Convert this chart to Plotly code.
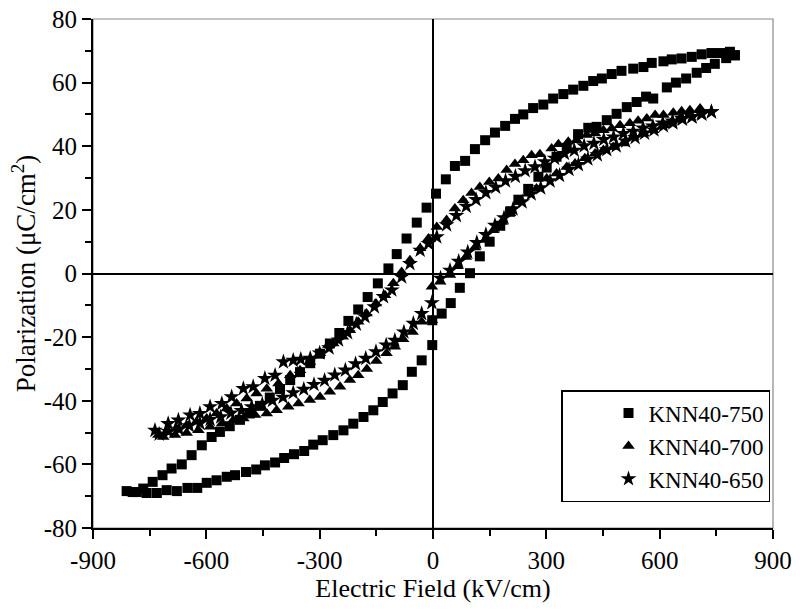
import plotly.graph_objects as go

# ---- data ----
names = ["KNN40-750", "KNN40-700", "KNN40-650"]

e750 = [799, 786, 760, 737, 711, 685, 658, 632, 610, 579, 557, 530, 499, 473, 447, 424, 398, 371, 345, 318,
        292, 265, 239, 217, 191, 164, 138, 111, 85, 58, 34, 8, -17, -43, -70, -96, -118, -146, -173, -198,
        -224, -248, -273, -299, -325, -352, -378, -405, -432, -458, -485, -511, -538, -564, -586, -612, -639,
        -665, -692, -716, -742, -767, -795, -811,
        -784, -758, -731, -705, -678, -650, -624, -599, -573, -546, -524, -495, -468, -445, -418, -394, -368,
        -341, -317, -292, -264, -237, -211, -184, -158, -133, -107, -80, -56, -30, -2, -2, 23, 47, 71, 98,
        124, 150, 178, 204, 226, 252, 279, 301, 327, 354, 384, 411, 433, 460, 486, 513, 539, 564, 583, 619,
        643, 670, 698, 723, 746, 776, 799]
p750 = [68.6, 69.7, 69.3, 69.3, 68.9, 68.1, 67.6, 67.3, 66.7, 66.2, 64.9, 64.4, 63.7, 62.7, 61.3, 60.5, 59.0,
        57.8, 56.4, 55.0, 53.1, 52.0, 50.0, 48.6, 46.4, 44.3, 41.9, 39.1, 35.4, 33.8, 29.6, 25.1, 20.7, 16.0,
        11.0, 6.1, 1.6, -3.1, -7.4, -11.3, -14.9, -18.7, -22.0, -25.2, -28.2, -31.0, -33.5, -36.3, -39.0,
        -41.6, -44.0, -46.0, -48.0, -49.8, -51.4, -54.0, -57.1, -60.0, -61.3, -63.4, -65.5, -67.6, -68.7, -68.4,
        -68.7, -69.0, -69.0, -68.1, -68.4, -67.4, -67.4, -65.8, -65.0, -63.9, -63.4, -62.4, -61.6, -60.3,
        -59.4, -58.0, -56.8, -55.8, -53.8, -52.4, -50.8, -49.3, -47.2, -45.1, -43.0, -40.4, -37.7, -35.1,
        -30.9, -27.3, -22.5, -14.7, -12.6, -9.3, -4.5, 0.1, 5.4, 10.0, 15.0, 19.4, 23.2, 26.6, 30.4, 33.3,
        36.7, 39.5, 43.8, 45.8, 46.1, 48.2, 50.2, 52.3, 53.9, 55.6, 55.0, 58.5, 60.0, 61.3, 63.1, 64.6, 65.9,
        67.7, 68.6]

e700 = [707, 680, 658, 636, 610, 588, 566, 543, 521, 495, 473, 451, 429, 407, 380, 358, 332, 314, 283, 261,
        239, 217, 195, 173, 149, 124, 102, 80, 58, 36, 10, -12, -34, -61, -83, -105, -127, -151, -176, -198,
        -220, -239, -264, -277, -299, -326, -352, -378, -409, -440, -467, -493, -520, -546, -573, -599, -626,
        -652, -679, -705, -727,
        -714, -683, -652, -621, -590, -559, -529, -502, -471, -440, -414, -383, -356, -326, -299, -273, -246,
        -220, -198, -175, -150, -123, -101, -79, -54, -30, -3, -3, 19, 45, 65, 87, 111, 138, 160, 182, 204,
        226, 252, 274, 301, 327, 354, 376, 402, 429, 451, 477, 504, 530, 557, 583, 610, 632, 654, 680, 707]
p700 = [51.9, 51.3, 51.0, 50.5, 49.8, 49.8, 48.7, 48.0, 47.2, 46.6, 45.6, 45.0, 44.0, 43.5, 41.9, 41.4, 40.6,
        39.3, 37.5, 37.2, 35.6, 34.4, 32.5, 29.9, 28.8, 27.2, 25.3, 23.0, 20.4, 16.8, 14.6, 11.0, 7.9, 4.2,
        0.5, -3.1, -6.8, -9.4, -12.6, -15.2, -17.8, -19.9, -22.0, -22.5, -25.1, -27.8, -30.4, -32.0, -34.6,
        -36.2, -37.7, -39.3, -40.9, -42.4, -44.0, -45.6, -46.6, -47.7, -48.7, -49.8, -50.8,
        -51.4, -50.8, -50.1, -49.3, -48.2, -47.2, -46.1, -45.6, -44.5, -44.0, -43.0, -41.9, -40.9, -39.8,
        -38.8, -37.2, -35.6, -33.5, -32.0, -30.0, -27.5, -25.1, -23.0, -20.7, -18.4, -15.2, -14.7, -4.2,
        -2.6, -0.5, 2.3, 5.2, 8.2, 10.5, 13.6, 16.2, 18.9, 22.5, 25.1, 26.7, 29.9, 31.4, 33.5, 34.6, 36.2,
        37.7, 38.8, 39.8, 40.9, 42.9, 44.0, 45.0, 46.6, 47.7, 48.7, 49.8, 51.3]

e650 = [737, 712, 686, 660, 634, 608, 582, 556, 530, 504, 478, 452, 426, 400, 374, 348, 322, 296, 270, 244,
        218, 192, 166, 140, 114, 88, 62, 36, 10, -12, -34, -61, -83, -109, -131, -155, -180, -203, -226,
        -250, -275, -300, -325, -350, -370, -396, -418, -445, -476, -502, -533, -559, -590, -617, -643, -674,
        -701, -736,
        -725, -700, -672, -645, -617, -590, -562, -535, -507, -480, -452, -425, -397, -370, -342, -315, -287,
        -260, -232, -205, -178, -151, -124, -101, -77, -52, -30, -3, 20, 45, 68, 92, 116, 140, 164, 188,
        212, 236, 260, 285, 310, 335, 360, 385, 410, 435, 460, 485, 510, 535, 560, 585, 610, 635, 660, 685,
        710, 737]
p650 = [50.8, 50.1, 49.3, 48.7, 47.9, 47.3, 46.3, 45.7, 44.7, 44.0, 42.9, 42.1, 40.9, 40.1, 38.7, 37.7, 36.2,
        35.1, 33.5, 32.3, 30.5, 29.1, 27.1, 25.4, 23.2, 21.1, 18.2, 15.3, 11.5, 9.4, 7.3, 3.1, -1.1, -5.2,
        -7.3, -10.5, -13.6, -15.9, -18.6, -20.9, -23.4, -25.0, -26.7, -27.0, -27.3, -27.8, -32.0, -33.0,
        -35.6, -36.2, -38.8, -40.9, -41.9, -44.0, -44.5, -46.1, -47.2, -49.3,
        -50.5, -49.7, -49.0, -47.9, -47.1, -45.9, -45.1, -43.9, -43.1, -41.9, -41.1, -39.9, -38.9, -37.5,
        -36.4, -34.9, -33.6, -31.9, -30.4, -28.4, -26.7, -24.6, -22.5, -21.0, -18.4, -15.7, -12.6, -9.2,
        -1.5, 1.0, 3.8, 6.7, 9.7, 12.2, 15.1, 17.5, 20.3, 22.5, 25.0, 26.9, 29.1, 30.8, 32.7, 34.2, 36.0,
        37.3, 38.9, 40.1, 41.6, 42.7, 44.1, 45.1, 46.4, 47.3, 48.5, 49.2, 50.2, 50.8]

x_ticks = [-900, -600, -300, 0, 300, 600, 900]
y_ticks = [-80, -60, -40, -20, 0, 20, 40, 60, 80]

FONT = "Liberation Serif, Times New Roman, serif"

fig = go.Figure()
fig.add_trace(go.Scatter(x=e750, y=p750, mode="markers", name=names[0],
                         marker=dict(symbol="square", size=10, color="black")))
fig.add_trace(go.Scatter(x=e700, y=p700, mode="markers", name=names[1],
                         marker=dict(symbol="triangle-up", size=11, color="black")))
fig.add_trace(go.Scatter(x=e650, y=p650, mode="markers", name=names[2],
                         marker=dict(symbol="star", size=12, color="black")))

axis_common = dict(showgrid=False, showline=True, linecolor="black", linewidth=2,
                   ticks="outside", ticklen=9, tickwidth=1.5, tickcolor="black",
                   zeroline=True, zerolinecolor="black", zerolinewidth=1.5,
                   automargin=False, ticklabeloverflow="allow",
                   tickfont=dict(family=FONT, size=25, color="black"))

fig.update_xaxes(range=[-900, 900], tickvals=x_ticks, ticktext=[str(v) for v in x_ticks],
                 minor=dict(dtick=150, tick0=-900, ticks="outside", ticklen=6, tickwidth=1.5, tickcolor="black"),
                 title=dict(text="Electric Field (kV/cm)", font=dict(family=FONT, size=26, color="black"),
                            standoff=6),
                 **axis_common)
fig.update_yaxes(range=[-80, 80], tickvals=y_ticks, ticktext=[str(v) for v in y_ticks],
                 minor=dict(dtick=10, tick0=-80, ticks="outside", ticklen=6, tickwidth=1.5, tickcolor="black"),
                 title=dict(text="Polarization (μC/cm<sup>2</sup>)", font=dict(family=FONT, size=27, color="black"),
                            standoff=0),
                 **axis_common)

fig.add_shape(type="rect", xref="paper", yref="paper", x0=0, x1=1, y0=0, y1=1,
              line=dict(color="#888888", width=1.2), layer="below")

fig.update_layout(
    width=800, height=611,
    margin=dict(l=93, r=27, t=19, b=83),
    paper_bgcolor="white", plot_bgcolor="white",
    font=dict(family=FONT, color="black"),
    hovermode=False,
    legend=dict(x=0.9956, y=0.051, xanchor="right", yanchor="bottom",
                bordercolor="black", borderwidth=1.5, bgcolor="white",
                font=dict(family=FONT, size=23, color="black"),
                indentation=46),
)

# remove the browser's default 8px body margin so the figure fills the window exactly
fig.write_html("out.html",
               config={"displayModeBar": False},
               post_script="document.body.style.margin='0';document.body.style.overflow='hidden';")
